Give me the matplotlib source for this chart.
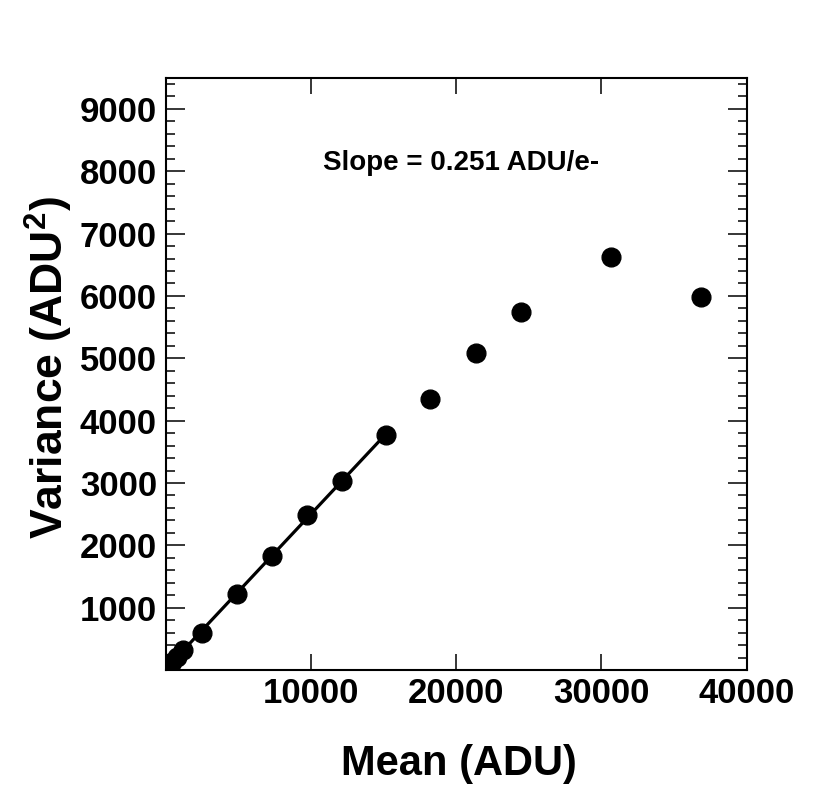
import numpy as np
import matplotlib
matplotlib.use("Agg")
from matplotlib import pyplot as plt
from matplotlib.ticker import MultipleLocator, FixedLocator

plt.rcParams['font.family'] = ['Liberation Sans', 'DejaVu Sans']
plt.rcParams['font.weight'] = 'bold'
plt.rcParams['mathtext.fontset'] = 'custom'
plt.rcParams['mathtext.rm'] = 'Liberation Sans:bold'
plt.rcParams['mathtext.default'] = 'rm'

# photon transfer data
mean = [100, 410, 760, 1170, 2500, 4870, 7280, 9740, 12110, 15140,
        18190, 21340, 24440, 30640, 36840]
variance = [50, 132, 213, 325, 594, 1220, 1824, 2489, 3029, 3763,
            4341, 5085, 5744, 6618, 5985]
n_fit = 10  # points used in the linear fit
slope_text = "Slope = 0.251 ADU/e-"

mean = np.array(mean)
variance = np.array(variance)

fig = plt.figure(figsize=(8.3, 7.89), dpi=100)
ax = fig.add_axes([0.2, 0.1508, 0.6994, 0.7507])

# fitted line over the linear part
p = np.polyfit(mean[:n_fit], variance[:n_fit], 1)
xf = np.array([mean[0], mean[n_fit - 1]])
ax.plot(xf, np.polyval(p, xf), color='black', lw=2.3, zorder=2)
ax.plot(mean, variance, 'o', color='black', ms=13.5, zorder=3)

ax.set_xlim(0, 40000)
ax.set_ylim(0, 9500)
ax.xaxis.set_major_locator(FixedLocator([10000, 20000, 30000, 40000]))
ax.yaxis.set_major_locator(FixedLocator(list(range(1000, 10000, 1000))))
ax.yaxis.set_minor_locator(MultipleLocator(200))

ax.tick_params(axis='both', which='both', direction='in', width=1.1, colors='black')
ax.tick_params(axis='x', which='major', length=11.5, top=True, pad=5, labelsize=25)
ax.tick_params(axis='y', which='major', length=13.5, right=True, pad=6.5, labelsize=25)
ax.tick_params(axis='y', which='minor', length=6.5, right=True)
for s in ax.spines.values():
    s.set_linewidth(1.5)

ax.set_xlabel("Mean (ADU)", fontsize=30, fontweight='bold')
ax.set_ylabel("Variance (ADU$^2$)", fontsize=32, fontweight='bold')
ax.xaxis.set_label_coords(0.505, -0.125)
ax.yaxis.set_label_coords(-0.157, 0.51)

ax.text(0.508, 0.856, slope_text, transform=ax.transAxes, ha='center', va='center',
        fontsize=20, fontweight='bold')

fig.savefig("out.png", dpi=100)
